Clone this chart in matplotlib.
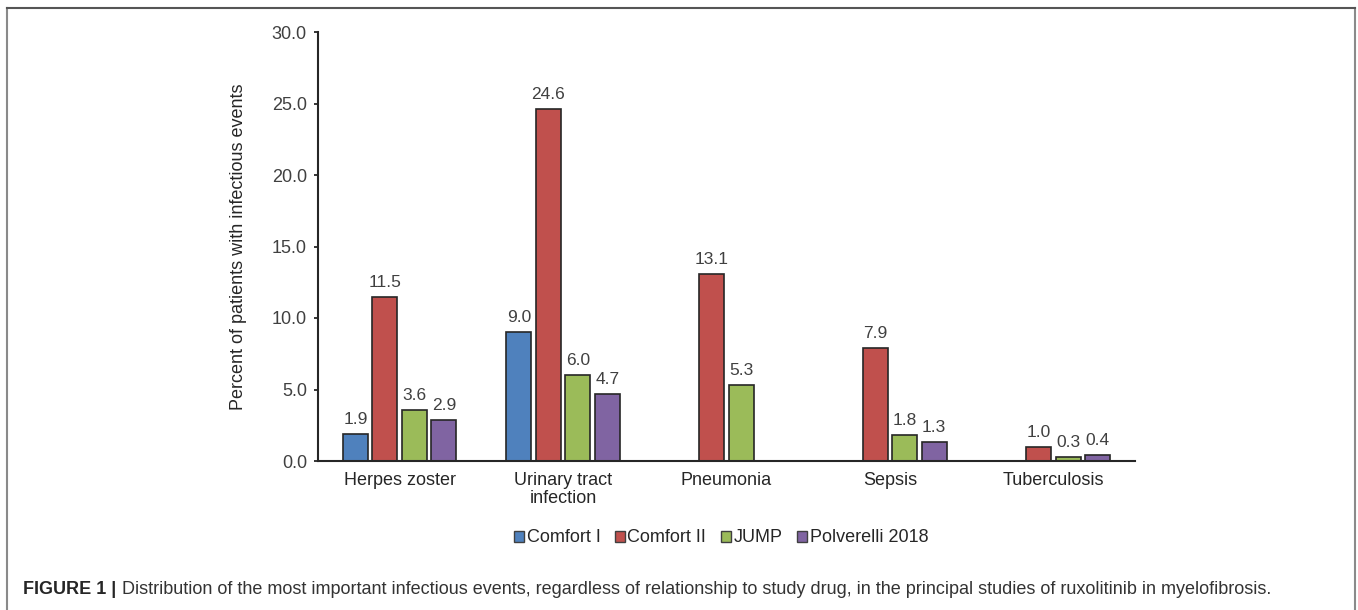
import numpy as np
import matplotlib.pyplot as plt
from matplotlib.patches import Patch
from matplotlib.lines import Line2D

plt.rcParams['font.family'] = ['Liberation Sans', 'DejaVu Sans']

categories = ['Herpes zoster', 'Urinary tract\ninfection', 'Pneumonia', 'Sepsis', 'Tuberculosis']
studies = ['Comfort I', 'Comfort II', 'JUMP', 'Polverelli 2018']
comfort_1 = [1.9, 9.0, np.nan, np.nan, np.nan]
comfort_2 = [11.5, 24.6, 13.1, 7.9, 1.0]
jump = [3.6, 6.0, 5.3, 1.8, 0.3]
polverelli = [2.9, 4.7, np.nan, 1.3, 0.4]
yticks = [0, 5, 10, 15, 20, 25, 30]

series = [comfort_1, comfort_2, jump, polverelli]
colors = ['#4F81BD', '#C0504D', '#9BBB59', '#8064A2']
txt = '#404040'
dark = '#262626'

fig = plt.figure(figsize=(13.58, 6.10), dpi=100)
ax = fig.add_axes([318 / 1358, 1 - 461 / 610, (1135 - 318) / 1358, (461 - 32) / 610])

x = np.arange(len(categories))
pitch = 0.18
width = 0.153
for i, (vals, c) in enumerate(zip(series, colors)):
    pos = x + (i - 1.5) * pitch
    ax.bar(pos, vals, width, color=c, edgecolor=dark, linewidth=1.2, zorder=2)
    for p, v in zip(pos, vals):
        if np.isnan(v):
            continue
        ax.annotate(f'{v:.1f}', xy=(p, v), xytext=(0, 5), textcoords='offset points',
                    ha='center', va='bottom', fontsize=12.5, color=txt)

ax.set_xlim(-0.5, len(categories) - 0.5)
ax.set_ylim(0, 30)
ax.set_yticks(yticks)
ax.set_yticklabels([f'{t:.1f}' for t in yticks], fontsize=13, color=txt)
ax.set_xticks(x)
ax.set_xticklabels(categories, fontsize=13, color=dark, linespacing=1.05)
ax.tick_params(axis='x', length=0, pad=8)
ax.tick_params(axis='y', length=3, width=1.3, color=dark, pad=5)
for s in ['top', 'right']:
    ax.spines[s].set_visible(False)
for s in ['left', 'bottom']:
    ax.spines[s].set_linewidth(1.5)
    ax.spines[s].set_color(dark)
ax.set_ylabel('Percent of patients with infectious events', fontsize=13, color=dark, labelpad=18)

handles = [Patch(facecolor=c, edgecolor='#404040', linewidth=1) for c in colors]
fig.legend(handles, studies, loc='center', bbox_to_anchor=(721 / 1358, 1 - 538 / 610), ncol=4,
           frameon=False, fontsize=13, handlelength=0.55, handleheight=0.55, handletextpad=0.15,
           columnspacing=0.8, labelcolor=dark)

# caption
t1 = fig.text(23 / 1358, 1 - 590 / 610, 'FIGURE 1 |', fontsize=13, fontweight='bold',
              color=dark, va='center')
ax.annotate('Distribution of the most important infectious events, regardless of relationship to study drug, '
            'in the principal studies of ruxolitinib in myelofibrosis.',
            xy=(1, 0.5), xycoords=t1, xytext=(4, 0), textcoords='offset points',
            va='center', fontsize=13, color='#333333', annotation_clip=False)

# figure frame
bc = '#8a8a8a'
fig.add_artist(Line2D([7 / 1358, 7 / 1358], [0, 1 - 8 / 610], color=bc, lw=1.5))
fig.add_artist(Line2D([1355 / 1358, 1355 / 1358], [0, 1 - 8 / 610], color=bc, lw=1.5))
fig.add_artist(Line2D([7 / 1358, 1355 / 1358], [1 - 8 / 610, 1 - 8 / 610], color='#555555', lw=1.5))

fig.savefig('out.png', dpi=100)
